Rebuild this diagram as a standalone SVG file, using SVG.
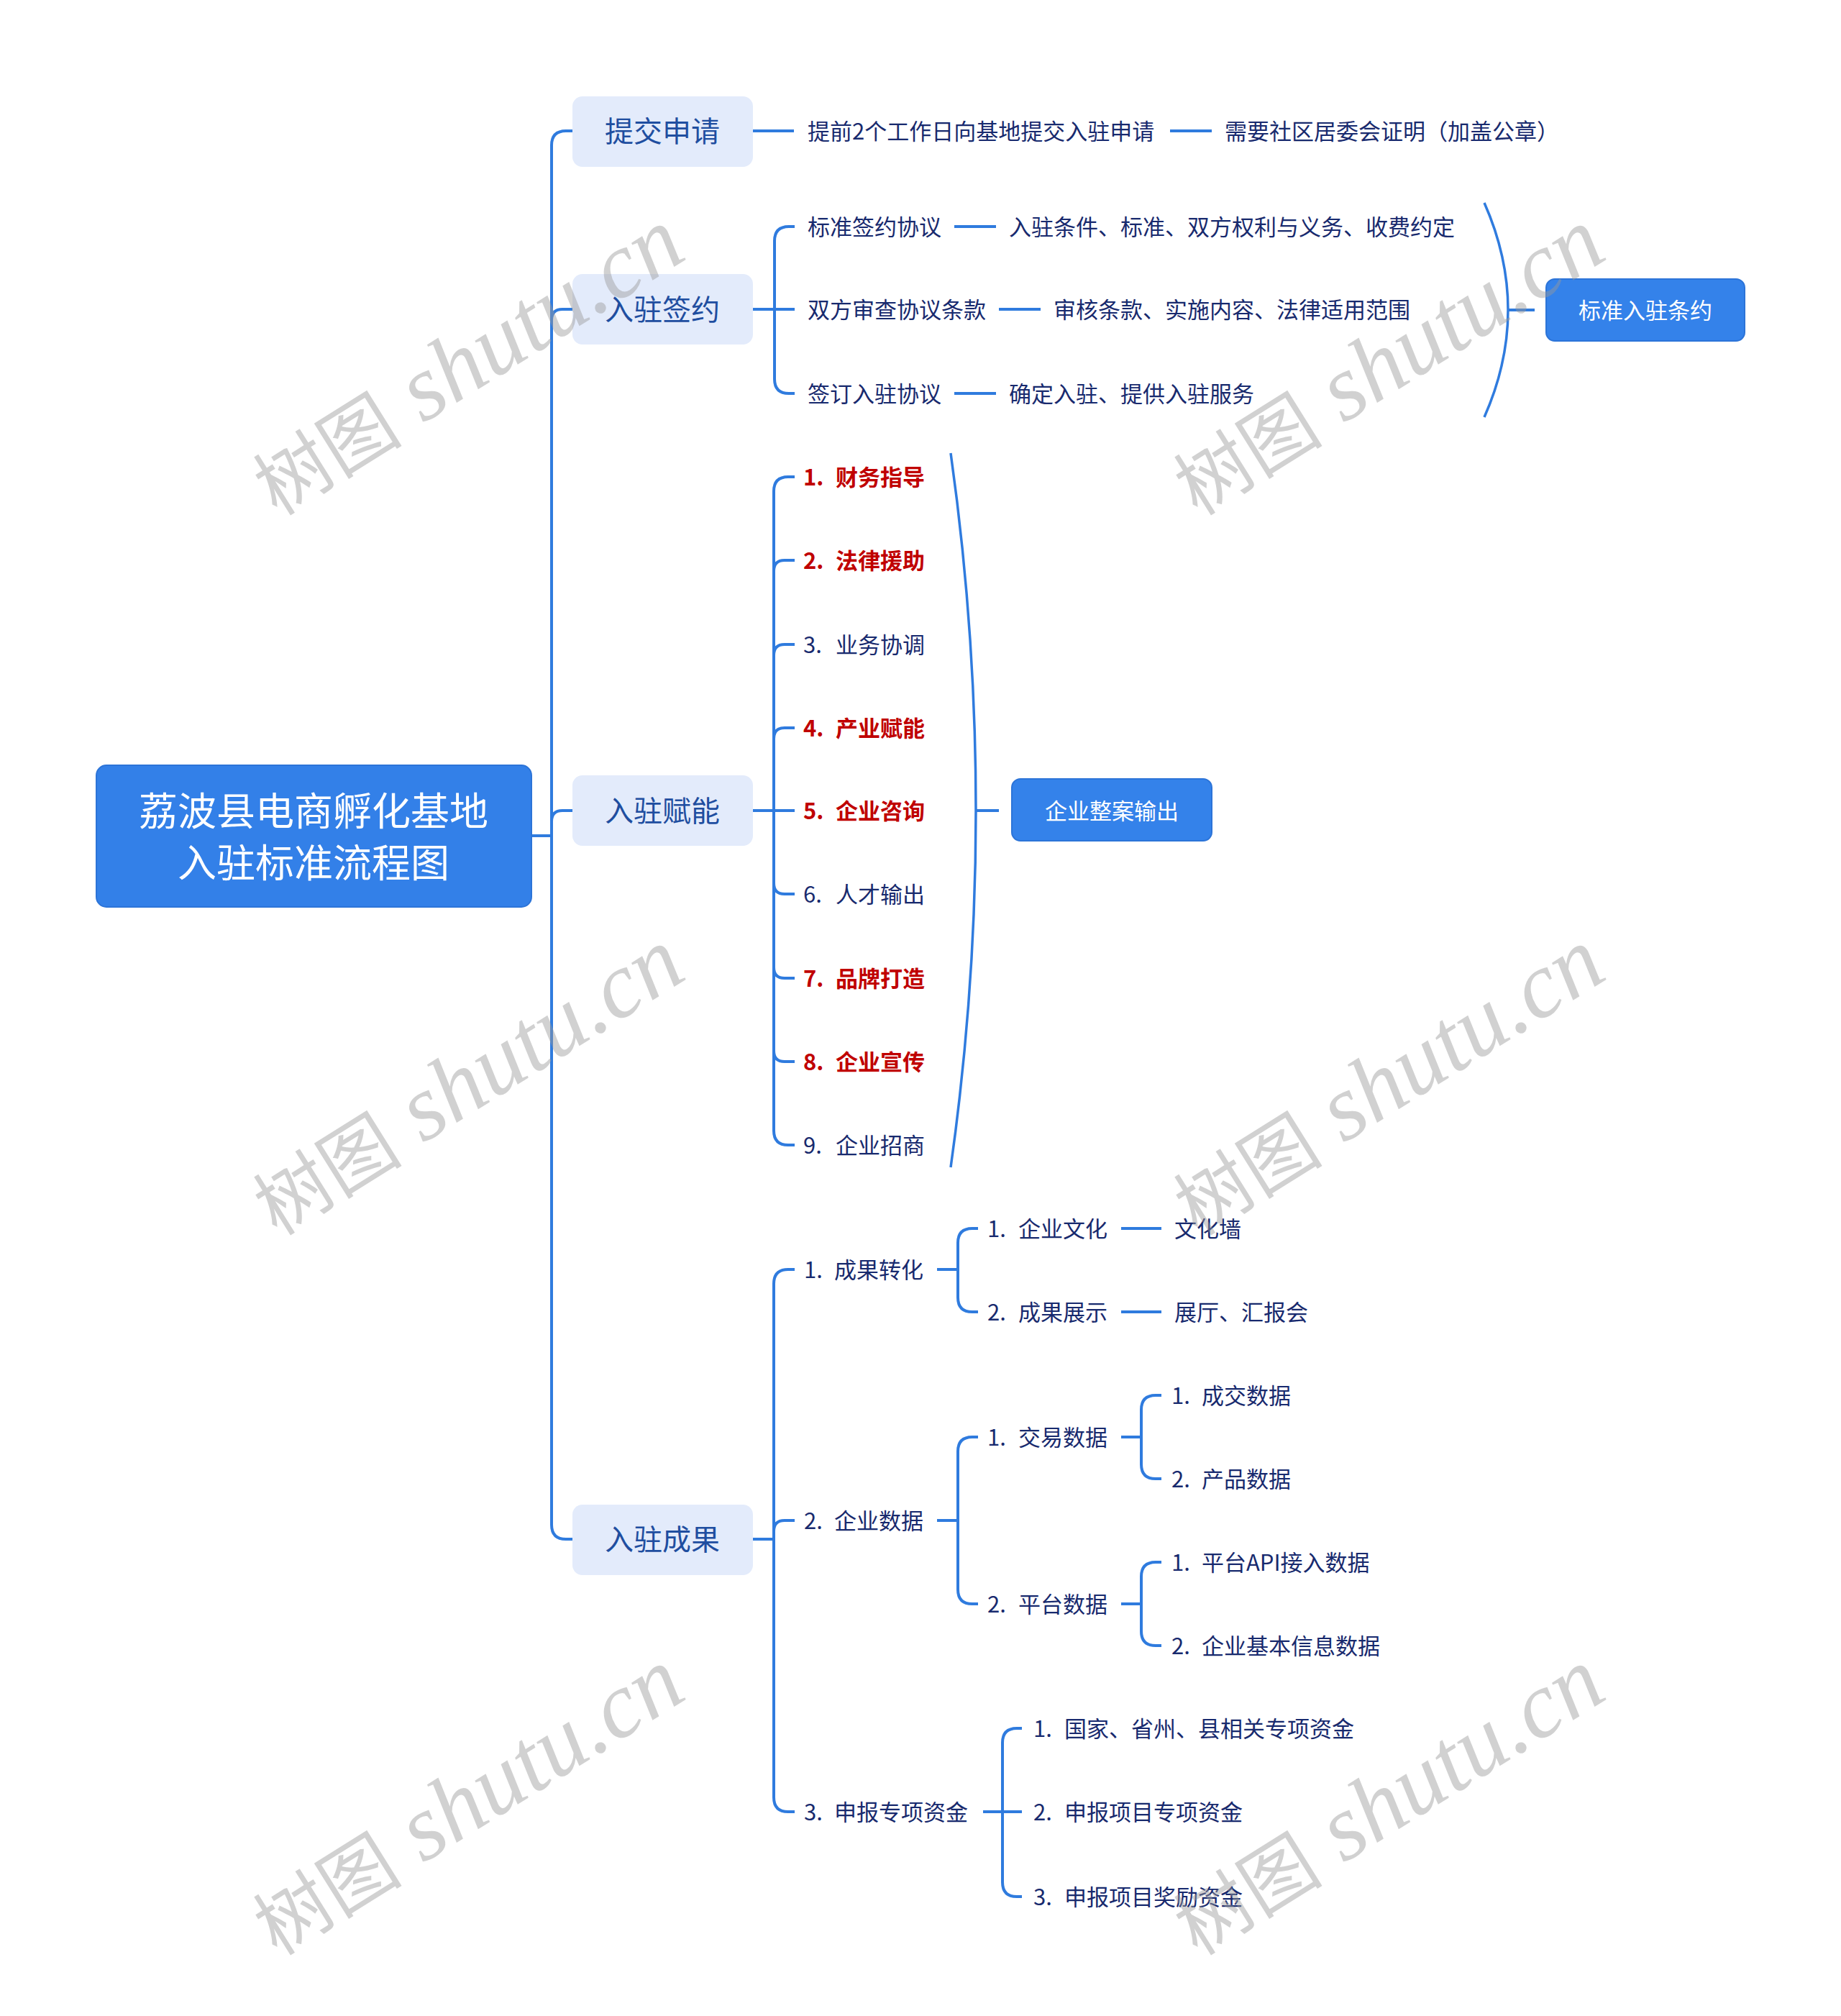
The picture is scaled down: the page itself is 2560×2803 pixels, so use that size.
<svg xmlns="http://www.w3.org/2000/svg" width="2560" height="2803" viewBox="0 0 2560 2803">
<style>
.ln{fill:none;stroke:#2F7BDE;stroke-width:4;stroke-linecap:butt}
.arc{fill:none;stroke:#2F7BDE;stroke-width:3.5}
.t{font-family:"Noto Sans CJK SC","Liberation Sans",sans-serif;font-size:31px;fill:#182A6E;dominant-baseline:central;transform:translate(0px,-2px)}
.r{font-family:"Noto Sans CJK SC","Liberation Sans",sans-serif;font-size:31px;fill:#C00000;font-weight:bold;dominant-baseline:central;transform:translate(0px,-2px)}
.l1box{fill:#E3EBFB}
.l1{font-family:"Noto Sans CJK SC","Liberation Sans",sans-serif;font-size:40px;fill:#1F4EA0;text-anchor:middle;dominant-baseline:central;transform:translate(0px,-2px)}
.bbox{fill:#3482EA;stroke:#2C74D8;stroke-width:2}
.bt{font-family:"Noto Sans CJK SC","Liberation Sans",sans-serif;font-size:31px;fill:#FFFFFF;text-anchor:middle;dominant-baseline:central;transform:translate(0px,-2px)}
.root{font-family:"Noto Sans CJK SC","Liberation Sans",sans-serif;font-size:54px;fill:#FFFFFF;text-anchor:middle;dominant-baseline:central;transform:translate(0px,-2px)}
.wm{fill:#9A9A9A;fill-opacity:0.45;text-anchor:middle;dominant-baseline:central}
.wmc{font-family:"Noto Sans CJK SC",serif;font-size:104px}
.wme{font-family:"Liberation Serif",serif;font-style:italic;font-size:130px}
</style>
<rect width="2560" height="2803" fill="#FFFFFF"/>

<g id="connectors">
  <path class="ln" d="M740,1162 H767"/>
  <path class="ln" d="M796,182 H787 Q767,182 767,202 V2120 Q767,2140 787,2140 H796"/>
  <path class="ln" d="M796,430 H782 Q767,430 767,445"/>
  <path class="ln" d="M796,1127 H782 Q767,1127 767,1142"/>
  <path class="ln" d="M1046,182 H1104"/>
  <path class="ln" d="M1627,182 H1685"/>
  <path class="ln" d="M1046,430 H1105"/>
  <path class="ln" d="M1105,315 H1097 Q1077,315 1077,335 V527 Q1077,547 1097,547 H1105"/>
  <path class="ln" d="M1327,315 H1385"/>
  <path class="ln" d="M1389,430 H1447"/>
  <path class="ln" d="M1327,547 H1385"/>
  <path class="arc" d="M2064,282 Q2130,431 2064,580"/>
  <path class="ln" d="M2097,431 H2134"/>
  <path class="ln" d="M1046,1127 H1105"/>
  <path class="ln" d="M1105,663 H1096 Q1076,663 1076,683 V1572 Q1076,1592 1096,1592 H1105"/>
  <path class="ln" d="M1105,779 H1091 Q1076,779 1076,794"/>
  <path class="ln" d="M1105,896 H1091 Q1076,896 1076,911"/>
  <path class="ln" d="M1105,1012 H1091 Q1076,1012 1076,1027"/>
  <path class="ln" d="M1105,1243 H1091 Q1076,1243 1076,1228"/>
  <path class="ln" d="M1105,1360 H1091 Q1076,1360 1076,1345"/>
  <path class="ln" d="M1105,1476 H1091 Q1076,1476 1076,1461"/>
  <path class="arc" d="M1322,630 Q1392,1127 1322,1623"/>
  <path class="ln" d="M1357,1127 H1389"/>
  <path class="ln" d="M1046,2140 H1076"/>
  <path class="ln" d="M1105,1765 H1096 Q1076,1765 1076,1785 V2499 Q1076,2519 1096,2519 H1105"/>
  <path class="ln" d="M1105,2114 H1091 Q1076,2114 1076,2129"/>
  <path class="ln" d="M1303,1765 H1332"/>
  <path class="ln" d="M1360,1708 H1352 Q1332,1708 1332,1728 V1804 Q1332,1824 1352,1824 H1360"/>
  <path class="ln" d="M1559,1708 H1615"/>
  <path class="ln" d="M1559,1824 H1615"/>
  <path class="ln" d="M1303,2114 H1332"/>
  <path class="ln" d="M1360,1998 H1352 Q1332,1998 1332,2018 V2210 Q1332,2230 1352,2230 H1360"/>
  <path class="ln" d="M1559,1998 H1587"/>
  <path class="ln" d="M1615,1940 H1607 Q1587,1940 1587,1960 V2036 Q1587,2056 1607,2056 H1615"/>
  <path class="ln" d="M1559,2230 H1587"/>
  <path class="ln" d="M1615,2172 H1607 Q1587,2172 1587,2192 V2268 Q1587,2288 1607,2288 H1615"/>
  <path class="ln" d="M1367,2519 H1421"/>
  <path class="ln" d="M1421,2403 H1414 Q1394,2403 1394,2423 V2617 Q1394,2637 1414,2637 H1421"/>
</g>

<g id="root">
  <rect x="134" y="1064" width="605" height="197" rx="14" fill="#3380E8" stroke="#2C74D8" stroke-width="2"/>
  <text class="root" x="436" y="1126">荔波县电商孵化基地</text>
  <text class="root" x="436" y="1198">入驻标准流程图</text>
</g>

<g id="n-tijiao">
  <rect class="l1box" x="796" y="134" width="251" height="98" rx="14"/>
  <text class="l1" x="921" y="182">提交申请</text>
</g>
<g id="n-tijiao-1"><text class="t" x="1123" y="182">提前2个工作日向基地提交入驻申请</text></g>
<g id="n-tijiao-2"><text class="t" x="1703" y="182">需要社区居委会证明（加盖公章）</text></g>

<g id="n-qianyue">
  <rect class="l1box" x="796" y="381" width="251" height="98" rx="14"/>
  <text class="l1" x="921" y="430">入驻签约</text>
</g>
<g id="n-qy-1"><text class="t" x="1123" y="315">标准签约协议</text></g>
<g id="n-qy-1a"><text class="t" x="1403" y="315">入驻条件、标准、双方权利与义务、收费约定</text></g>
<g id="n-qy-2"><text class="t" x="1123" y="430">双方审查协议条款</text></g>
<g id="n-qy-2a"><text class="t" x="1465" y="430">审核条款、实施内容、法律适用范围</text></g>
<g id="n-qy-3"><text class="t" x="1123" y="547">签订入驻协议</text></g>
<g id="n-qy-3a"><text class="t" x="1403" y="547">确定入驻、提供入驻服务</text></g>
<g id="n-qy-sum">
  <rect class="bbox" x="2150" y="388" width="276" height="86" rx="12"/>
  <text class="bt" x="2288" y="431">标准入驻条约</text>
</g>

<g id="n-funeng">
  <rect class="l1box" x="796" y="1078" width="251" height="98" rx="14"/>
  <text class="l1" x="921" y="1127">入驻赋能</text>
</g>
<g id="n-fn-1"><text class="r" x="1117" y="663">1.<tspan x="1162">财务指导</tspan></text></g>
<g id="n-fn-2"><text class="r" x="1117" y="779">2.<tspan x="1162">法律援助</tspan></text></g>
<g id="n-fn-3"><text class="t" x="1117" y="896">3.<tspan x="1162">业务协调</tspan></text></g>
<g id="n-fn-4"><text class="r" x="1117" y="1012">4.<tspan x="1162">产业赋能</tspan></text></g>
<g id="n-fn-5"><text class="r" x="1117" y="1127">5.<tspan x="1162">企业咨询</tspan></text></g>
<g id="n-fn-6"><text class="t" x="1117" y="1243">6.<tspan x="1162">人才输出</tspan></text></g>
<g id="n-fn-7"><text class="r" x="1117" y="1360">7.<tspan x="1162">品牌打造</tspan></text></g>
<g id="n-fn-8"><text class="r" x="1117" y="1476">8.<tspan x="1162">企业宣传</tspan></text></g>
<g id="n-fn-9"><text class="t" x="1117" y="1592">9.<tspan x="1162">企业招商</tspan></text></g>
<g id="n-fn-sum">
  <rect class="bbox" x="1407" y="1083" width="278" height="86" rx="12"/>
  <text class="bt" x="1546" y="1127">企业整案输出</text>
</g>

<g id="n-chengguo">
  <rect class="l1box" x="796" y="2092" width="251" height="98" rx="14"/>
  <text class="l1" x="921" y="2140">入驻成果</text>
</g>
<g id="n-cg-1"><text class="t" x="1118" y="1765">1.<tspan x="1160">成果转化</tspan></text></g>
<g id="n-cg-1-1"><text class="t" x="1373" y="1708">1.<tspan x="1416">企业文化</tspan></text></g>
<g id="n-cg-1-1a"><text class="t" x="1633" y="1708">文化墙</text></g>
<g id="n-cg-1-2"><text class="t" x="1373" y="1824">2.<tspan x="1416">成果展示</tspan></text></g>
<g id="n-cg-1-2a"><text class="t" x="1633" y="1824">展厅、汇报会</text></g>
<g id="n-cg-2"><text class="t" x="1118" y="2114">2.<tspan x="1160">企业数据</tspan></text></g>
<g id="n-cg-2-1"><text class="t" x="1373" y="1998">1.<tspan x="1416">交易数据</tspan></text></g>
<g id="n-cg-2-1-1"><text class="t" x="1629" y="1940">1.<tspan x="1671">成交数据</tspan></text></g>
<g id="n-cg-2-1-2"><text class="t" x="1629" y="2056">2.<tspan x="1671">产品数据</tspan></text></g>
<g id="n-cg-2-2"><text class="t" x="1373" y="2230">2.<tspan x="1416">平台数据</tspan></text></g>
<g id="n-cg-2-2-1"><text class="t" x="1629" y="2172">1.<tspan x="1671">平台API接入数据</tspan></text></g>
<g id="n-cg-2-2-2"><text class="t" x="1629" y="2288">2.<tspan x="1671">企业基本信息数据</tspan></text></g>
<g id="n-cg-3"><text class="t" x="1118" y="2519">3.<tspan x="1160">申报专项资金</tspan></text></g>
<g id="n-cg-3-1"><text class="t" x="1437" y="2403">1.<tspan x="1480">国家、省州、县相关专项资金</tspan></text></g>
<g id="n-cg-3-2"><text class="t" x="1437" y="2519">2.<tspan x="1480">申报项目专项资金</tspan></text></g>
<g id="n-cg-3-3"><text class="t" x="1437" y="2637">3.<tspan x="1480">申报项目奖励资金</tspan></text></g>

<g id="watermarks">
  <text class="wm" transform="translate(648,500) rotate(-32)"><tspan class="wmc">树图</tspan><tspan class="wme"> shutu.cn</tspan></text>
  <text class="wm" transform="translate(1928,500) rotate(-32)"><tspan class="wmc">树图</tspan><tspan class="wme"> shutu.cn</tspan></text>
  <text class="wm" transform="translate(648,1501) rotate(-32)"><tspan class="wmc">树图</tspan><tspan class="wme"> shutu.cn</tspan></text>
  <text class="wm" transform="translate(1928,1501) rotate(-32)"><tspan class="wmc">树图</tspan><tspan class="wme"> shutu.cn</tspan></text>
  <text class="wm" transform="translate(648,2502) rotate(-32)"><tspan class="wmc">树图</tspan><tspan class="wme"> shutu.cn</tspan></text>
  <text class="wm" transform="translate(1928,2502) rotate(-32)"><tspan class="wmc">树图</tspan><tspan class="wme"> shutu.cn</tspan></text>
</g>
</svg>
